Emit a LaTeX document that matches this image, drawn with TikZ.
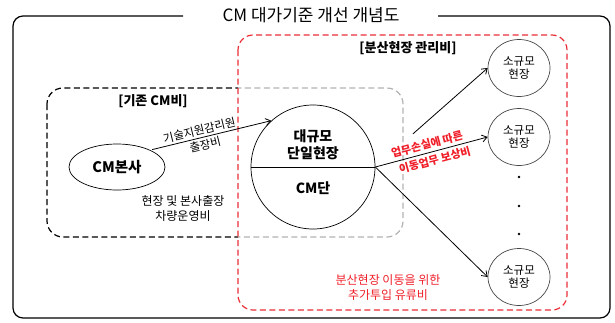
\documentclass[tikz,border=0pt]{standalone}
\usepackage{fontspec}
\setmainfont{Noto Sans CJK KR}
\usetikzlibrary{arrows.meta,shapes.geometric}
\definecolor{redd}{RGB}{235,45,55}
\definecolor{redt}{RGB}{240,30,40}
\definecolor{circgray}{RGB}{70,70,70}
\begin{document}
\begin{tikzpicture}[x=1pt,y=-1pt,
  arr/.style={-{Straight Barb[length=5pt,width=7pt]}, line width=0.8pt},
  blackdash/.style={draw=black, line width=1.2pt, dash pattern=on 6pt off 3.5pt},
  graydash/.style={draw=black!30, line width=1.2pt, dash pattern=on 6pt off 3.5pt},
  reddash/.style={draw=redd, line width=1.2pt, dash pattern=on 6pt off 3.5pt},
  small/.style={ellipse, draw=circgray, line width=0.7pt, minimum width=62pt, minimum height=57pt, inner sep=0pt, align=center, font=\fontsize{11.5}{13.5}\selectfont},
  dotn/.style={circle, fill=black, inner sep=0pt, minimum size=2.6pt},
  lbl/.style={font=\fontsize{11.5}{13}\selectfont, inner sep=2pt},
  rlbl/.style={font=\fontsize{11}{13}\selectfont\bfseries, text=redt, inner sep=3pt},
]
\useasboundingbox (0,0) rectangle (615,322);
% outer frame
\draw[line width=1.2pt, rounded corners=10pt] (183,16) -- (13,16) -- (13,318) -- (610,318) -- (610,16) -- (438,16);
\node[font=\fontsize{17}{20}\selectfont, inner sep=0pt] (title) at (311,15) {CM 대가기준 개선 개념도};
% existing CM box (black left, gray right)
\begin{scope}
  \clip (0,0) rectangle (238,322);
  \draw[blackdash, rounded corners=16pt] (47,88) rectangle (403,237);
\end{scope}
\begin{scope}
  \clip (238,0) rectangle (615,322);
  \draw[graydash, rounded corners=16pt] (47,88) rectangle (403,237);
\end{scope}
% red box
\draw[reddash, rounded corners=15pt] (238,35) rectangle (567,310);
% labels
\node[font=\fontsize{13}{15}\selectfont\bfseries] (lab1) at (153,101) {[기존 CM비]};
\node[font=\fontsize{13}{15}\selectfont\bfseries] (lab2) at (408,48) {[분산현장 관리비]};
\node[font=\fontsize{12}{15}\selectfont, align=center] (veh) at (183,208) {현장 및 본사출장\\차량운영비};
\node[font=\fontsize{12}{15}\selectfont, align=center, text=redt] (fuel) at (388,288) {분산현장 이동을 위한\\추가투입 유류비};
% CM HQ
\node[ellipse, draw=black, line width=0.7pt, minimum width=96pt, minimum height=46pt, font=\fontsize{14.5}{17}\selectfont\bfseries] (hq) at (117,167) {CM본사};
% big circle
\node[circle, draw=black, line width=0.7pt, minimum size=124pt, inner sep=0pt] (big) at (313,167) {};
\draw[line width=0.7pt] (big.west) -- (big.east);
\node[font=\fontsize{14}{17}\selectfont\bfseries, align=center] (bigtop) at (313,145) {대규모\\단일현장};
\node[font=\fontsize{14}{17}\selectfont\bfseries] (bigbot) at (313,188) {CM단};
% small sites
\node[small] (s1) at (519,68) {소규모\\현장};
\node[small] (s2) at (519,137) {소규모\\현장};
\node[small] (s3) at (519,277) {소규모\\현장};
\node[dotn] (d1) at (519,177) {};
\node[dotn] (d2) at (519,206) {};
\node[dotn] (d3) at (519,234) {};
% arrows
\draw[arr, shorten <=2pt] (hq.27) -- (big.132)
  node[lbl, sloped, above, pos=0.42] (t1) {기술지원감리원}
  node[lbl, sloped, below, pos=0.44] (t2) {출장비};
\draw[arr, shorten <=50pt] (big.east) -- (s1.west);
\draw[arr] (big.east) -- (s2.west)
  node[rlbl, sloped, above, pos=0.48] (r1) {업무손실에 따른}
  node[rlbl, sloped, below, pos=0.51] (r2) {이동업무 보상비};
\draw[arr] (big.east) -- (s3.west);
\end{tikzpicture}
\end{document}
